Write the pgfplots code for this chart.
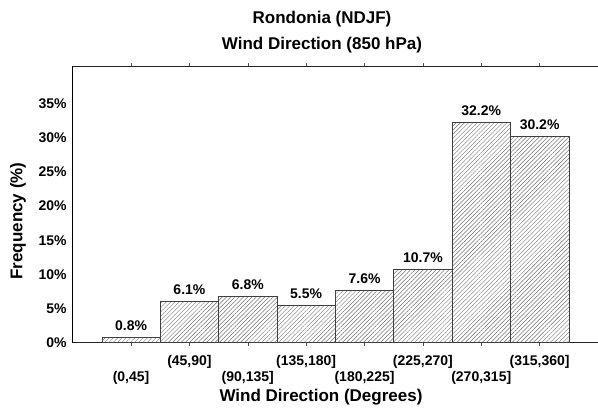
\documentclass[border=0pt]{standalone}
\usepackage{fontspec}
\setmainfont{Liberation Sans}
\usepackage{pgfplots}
\pgfplotsset{compat=1.18}
\usepackage{pgfplotstable}
\usetikzlibrary{patterns.meta}
\pgfplotstableread{
x y
0 0.8
1 6.1
2 6.8
3 5.5
4 7.6
5 10.7
6 32.2
7 30.2
}\winddata
\begin{document}
\begin{tikzpicture}[font=\fontsize{14}{16}\selectfont\bfseries]
\useasboundingbox (-72.7pt,-66.3pt) rectangle (525.3pt,342.7pt);
\begin{axis}[
  at={(0pt,0pt)}, anchor=south west,
  scale only axis, width=525.3pt, height=276.7pt,
  xmin=-1, xmax=8, ymin=0, ymax=40.5,
  axis x line=box, axis y line=left,
  x axis line style={-, black!85, line width=0.6pt},
  y axis line style={-, black, line width=0.6pt},
  xtick={1,3,5,7},
  xticklabels={{(45,90]},{(135,180]},{(225,270]},{(315,360]}},
  extra x ticks={0,2,4,6},
  extra x tick labels={{(0,45]},{(90,135]},{(180,225]},{(270,315]}},
  extra x tick style={grid=none, xticklabel style={yshift=-16pt}},
  xticklabel style={anchor=base, yshift=-19.5pt},
  x tick style={black!70, line width=0.5pt},
  tick align=inside, major tick length=3pt,
  xtick pos=both,
  ytick={0,5,...,35},
  yticklabels={0\%,5\%,10\%,15\%,20\%,25\%,30\%,35\%},
  ytick style={draw=none},
  yticklabel style={anchor=east, xshift=-2.5pt},
  ybar, bar width=1,
  nodes near coords={\pgfmathprintnumber[fixed,precision=1,fixed zerofill,assume math mode=true]{\pgfplotspointmeta}\%},
  nodes near coords style={anchor=base, yshift=7pt, font=\fontsize{14}{16}\selectfont\bfseries},
  point meta=y,
  clip=false,
]
\addplot[draw=black!75, line width=0.6pt,
  pattern={Lines[angle=45,distance=3pt,line width=0.45pt]}, pattern color=black!55]
  table[x=x,y=y] {\winddata};
\end{axis}
\node[font=\fontsize{17}{20}\selectfont\bfseries] at (249.3pt,323.7pt) {Rondonia (NDJF)};
\node[font=\fontsize{17}{20}\selectfont\bfseries] at (249.3pt,297.7pt) {Wind Direction (850 hPa)};
\node[font=\fontsize{17}{20}\selectfont\bfseries] at (248.3pt,-54.3pt) {Wind Direction (Degrees)};
\node[font=\fontsize{17}{20}\selectfont\bfseries, rotate=90] at (-54.7pt,121.7pt) {Frequency (\%)};
\end{tikzpicture}
\end{document}
